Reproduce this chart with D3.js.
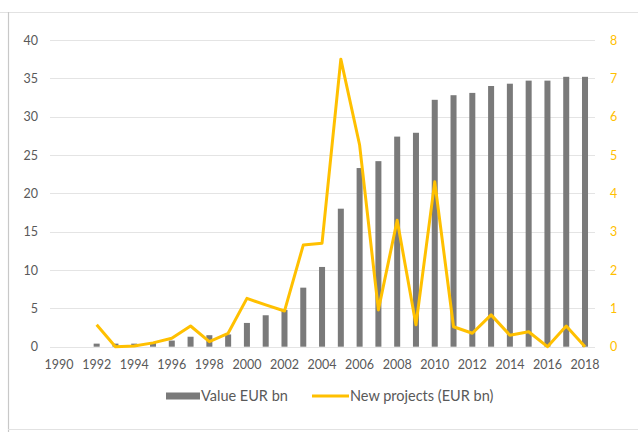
<!DOCTYPE html>
<html><head><meta charset="utf-8">
<script src="https://cdn.jsdelivr.net/npm/d3@7"></script>
<style>body{margin:0;background:#fff;}svg{display:block;font-family:Lato,"Open Sans",sans-serif;}</style>
</head><body><svg id="c" width="638" height="432"></svg>
<script>
const years = d3.range(1990, 2019).map(String);
const valueEUR = [0,0,0.4,0.4,0.4,0.5,0.8,1.3,1.5,1.6,3.1,4.1,4.8,7.7,10.4,18.0,23.3,24.2,27.4,27.9,32.2,32.8,33.1,34.0,34.3,34.7,34.7,35.2,35.2];
const newProjects = [null,null,0.57,0.0,0.02,0.1,0.22,0.54,0.13,0.35,1.26,1.09,0.93,2.65,2.7,7.5,5.26,0.96,3.3,0.57,4.3,0.52,0.35,0.83,0.3,0.39,0.0,0.54,0.0];
const leftTicks = [0,5,10,15,20,25,30,35,40];
const rightTicks = [0,1,2,3,4,5,6,7,8];
const xLabels = d3.range(1990, 2019, 2).map(String);
const seriesNames = ["Value EUR bn", "New projects (EUR bn)"];

const svg = d3.select("#c");
const gray = "#7a7a7a", gold = "#FFC000";
const FONT = "Lato,'Open Sans',sans-serif";

// frame
svg.append("line").attr("x1",0).attr("x2",638).attr("y1",12.5).attr("y2",12.5).attr("stroke","#e2e2e2");
svg.append("line").attr("x1",8.5).attr("x2",8.5).attr("y1",12).attr("y2",432).attr("stroke","#c8c8c8").attr("stroke-width",1.2);
svg.append("line").attr("x1",8).attr("x2",638).attr("y1",429.5).attr("y2",429.5).attr("stroke","#e2e2e2");

const x = d3.scaleBand().domain(years).range([49.7, 594.4]).paddingInner(0.68).paddingOuter(0.34);
const xc = d => x(d) + x.bandwidth()/2;
const yL = d3.scaleLinear().domain([0,40]).range([346.7, 40]);
const yR = d3.scaleLinear().domain([0,8]).range([346.7, 40]);

// gridlines
svg.append("g").selectAll("line").data(leftTicks).join("line")
  .attr("x1",50).attr("x2",595).attr("y1",d=>Math.round(yL(d))+0.5).attr("y2",d=>Math.round(yL(d))+0.5)
  .attr("stroke","#e4e4e4").attr("stroke-width",1);

// left axis
const ga = svg.append("g").attr("transform","translate(38,0)")
  .call(d3.axisLeft(yL).tickValues(leftTicks).tickSize(0).tickPadding(0));
ga.select(".domain").remove();
ga.selectAll("text").attr("fill","#595959").attr("font-size",12.5).attr("font-family",FONT);

// right axis
const gr = svg.append("g").attr("transform","translate(610,0)")
  .call(d3.axisRight(yR).tickValues(rightTicks).tickSize(0).tickPadding(0));
gr.select(".domain").remove();
gr.selectAll("text").attr("fill",gold).attr("font-size",12.5).attr("font-family",FONT);

// x axis
const gx = svg.append("g").attr("transform","translate(0,360)")
  .call(d3.axisBottom(x).tickValues(xLabels).tickSize(0).tickPadding(0));
gx.select(".domain").remove();
gx.selectAll("text").attr("fill","#595959").attr("font-size",12.5).attr("dy","0.71em").attr("font-family",FONT);

// bars
svg.append("g").selectAll("rect").data(years.map((y,i)=>({y,v:valueEUR[i]})).filter(d=>d.v>0)).join("rect")
  .attr("x",d=>x(d.y)).attr("width",x.bandwidth())
  .attr("y",d=>yL(d.v)).attr("height",d=>yL(0)-yL(d.v)).attr("fill",gray);

// line
const pts = years.map((y,i)=>({y,v:newProjects[i]}));
svg.append("path").datum(pts)
  .attr("d", d3.line().defined(d=>d.v!==null).x(d=>xc(d.y)).y(d=>yR(d.v)))
  .attr("fill","none").attr("stroke",gold).attr("stroke-width",3).attr("stroke-linejoin","round");

// legend
const lg = svg.append("g").attr("font-family",FONT);
lg.append("rect").attr("x",166).attr("y",392.5).attr("width",34).attr("height",7).attr("fill",gray);
lg.append("text").attr("x",201).attr("y",400.5).text(seriesNames[0]).attr("fill","#595959").attr("font-size",14.5);
lg.append("line").attr("x1",312).attr("x2",349).attr("y1",396).attr("y2",396).attr("stroke",gold).attr("stroke-width",3);
lg.append("text").attr("x",350).attr("y",400.5).text(seriesNames[1]).attr("fill","#595959").attr("font-size",14.5);
</script></body></html>
